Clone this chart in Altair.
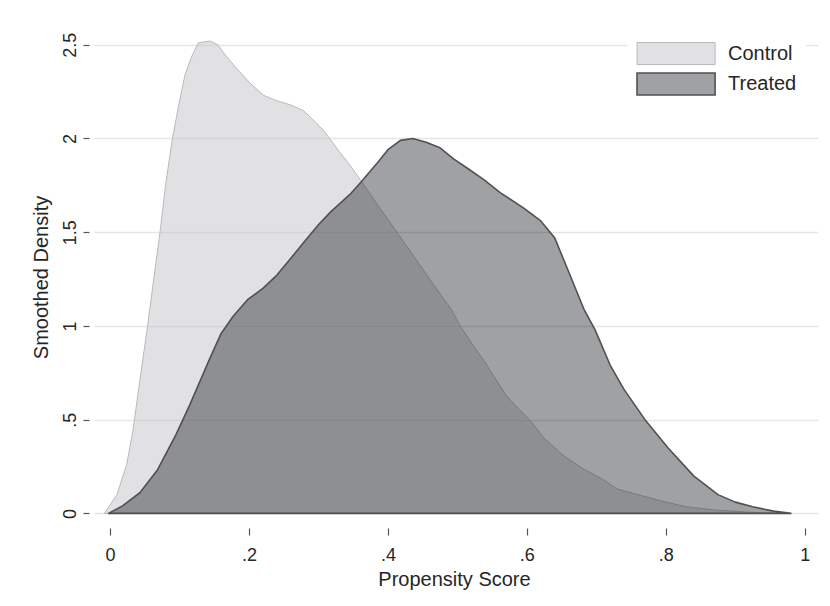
import altair as alt
import pandas as pd

# Kernel density estimates of the propensity score, by treatment group
control_x = [-0.008, 0.010, 0.024, 0.033, 0.043, 0.053, 0.063, 0.072, 0.080, 0.089,
             0.099, 0.108, 0.118, 0.127, 0.144, 0.155, 0.165, 0.183, 0.203, 0.221,
             0.241, 0.259, 0.278, 0.295, 0.308, 0.330, 0.347, 0.362, 0.390, 0.413,
             0.445, 0.477, 0.491, 0.504, 0.522, 0.539, 0.570, 0.590, 0.604, 0.625,
             0.652, 0.680, 0.710, 0.730, 0.760, 0.800, 0.830, 0.870, 0.920, 0.960]
control_y = [0.0, 0.10, 0.26, 0.44, 0.71, 0.97, 1.25, 1.50, 1.75, 1.98,
             2.18, 2.34, 2.44, 2.51, 2.52, 2.50, 2.45, 2.37, 2.29, 2.23,
             2.20, 2.18, 2.15, 2.09, 2.04, 1.93, 1.85, 1.77, 1.62, 1.50,
             1.33, 1.16, 1.09, 1.00, 0.90, 0.81, 0.63, 0.55, 0.50, 0.40,
             0.31, 0.24, 0.18, 0.13, 0.10, 0.06, 0.035, 0.018, 0.006, 0.0]

treated_x = [-0.002, 0.018, 0.043, 0.068, 0.095, 0.115, 0.143, 0.160, 0.177, 0.198,
             0.220, 0.240, 0.260, 0.280, 0.300, 0.318, 0.345, 0.362, 0.385, 0.400,
             0.418, 0.436, 0.455, 0.475, 0.495, 0.515, 0.538, 0.562, 0.595, 0.620,
             0.640, 0.660, 0.682, 0.698, 0.720, 0.740, 0.770, 0.803, 0.840, 0.875,
             0.900, 0.925, 0.955, 0.980]
treated_y = [0.0, 0.04, 0.11, 0.23, 0.42, 0.58, 0.82, 0.96, 1.05, 1.14,
             1.20, 1.27, 1.36, 1.45, 1.54, 1.61, 1.70, 1.77, 1.87, 1.94,
             1.99, 2.00, 1.98, 1.95, 1.89, 1.84, 1.78, 1.71, 1.63, 1.56,
             1.47, 1.29, 1.09, 0.98, 0.79, 0.66, 0.50, 0.35, 0.20, 0.10,
             0.06, 0.035, 0.012, 0.0]

groups = ["Control", "Treated"]
x_ticks = [0, 0.2, 0.4, 0.6, 0.8, 1]
y_ticks = [0, 0.5, 1, 1.5, 2, 2.5]

df = pd.concat([
    pd.DataFrame({"score": control_x, "density": control_y, "group": groups[0]}),
    pd.DataFrame({"score": treated_x, "density": treated_y, "group": groups[1]}),
], ignore_index=True)

FONT = "Liberation Sans"
TEXT = "#262626"
# drop the leading zero: 0.2 -> .2
label_expr = "replace(format(datum.value, '.1~f'), '0.', '.')"

x_axis = alt.Axis(
    values=x_ticks, labelExpr=label_expr, title="Propensity Score",
    grid=False, domain=False, offset=9, tickSize=7, tickColor="#555555",
    tickWidth=1.2, labelFontSize=18, labelPadding=25, labelBaseline="alphabetic",
    titleFontSize=20, titleFontWeight="normal", titleBaseline="alphabetic",
    titleX=360, titleY=57, titleAnchor="middle",
)
y_axis = alt.Axis(
    values=y_ticks, labelExpr=label_expr, title="Smoothed Density",
    grid=True, gridColor="#e6e6e6", gridWidth=1.5, domain=False,
    offset=5, tickSize=6, tickColor="#555555", tickWidth=1.2,
    labelFontSize=18, labelAngle=270, labelAlign="center",
    labelBaseline="alphabetic", labelPadding=8,
    titleFontSize=20, titleFontWeight="normal", titleAngle=270,
    titleAlign="center", titleBaseline="alphabetic", titleX=-42, titleY=251,
)

legend = alt.Legend(
    title=None, orient="none", legendX=533, legendY=7, padding=9,
    fillColor="white", symbolType="M-1,-1H6.1V1H-1Z", symbolSize=484,
    symbolStrokeWidth=1.5, labelFontSize=20, labelOffset=68, rowPadding=2,
    labelFont=FONT, labelColor=TEXT,
)

# translucent fills so the overlap of the two densities shows through
fill_colors = ["rgba(195,196,200,0.5)", "rgba(29,30,36,0.42)"]
stroke_colors = ["#b9babd", "#505154"]

areas = alt.Chart(df).mark_area(interpolate="linear", strokeJoin="round").encode(
    x=alt.X("score:Q", axis=x_axis,
            scale=alt.Scale(domain=[-0.023, 1.019], nice=False, zero=False)),
    y=alt.Y("density:Q", axis=y_axis, stack=None,
            scale=alt.Scale(domain=[-0.03, 2.6], nice=False, zero=False)),
    y2=alt.datum(0),
    fill=alt.Fill("group:N", legend=legend,
                  scale=alt.Scale(domain=groups, range=fill_colors)),
    stroke=alt.Stroke("group:N", legend=legend,
                      scale=alt.Scale(domain=groups, range=stroke_colors)),
    strokeWidth=alt.StrokeWidth("group:N", legend=None,
                                scale=alt.Scale(domain=groups, range=[1.0, 1.6])),
)

chart = areas.properties(
    width=724, height=493,
    autosize=alt.AutoSizeParams(type="none"),
    padding={"left": 94, "top": 26, "right": 12, "bottom": 87},
    background="white",
).configure_view(stroke=None).configure_axis(
    labelFont=FONT, titleFont=FONT, labelColor=TEXT, titleColor=TEXT,
)

chart.save("out.html", embed_options={"renderer": "svg", "actions": False})
